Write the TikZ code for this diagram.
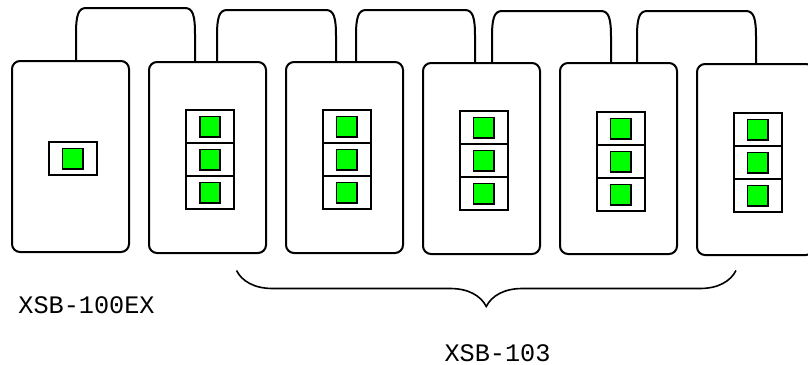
\documentclass[tikz,border=0pt]{standalone}
\usepackage{fontspec}
\setmonofont{Liberation Mono}
\usepackage{tikz}
\usetikzlibrary{calc,decorations.pathreplacing}
\definecolor{ledgreen}{RGB}{0,255,0}

\begin{document}
\begin{tikzpicture}[x=0.5pt,y=-0.5pt,
    unit/.style={draw=black,line width=1pt,rounded corners=4pt,minimum width=58.5pt,minimum height=95.5pt,inner sep=0pt},
    slot/.style={draw=black,line width=1pt,minimum width=24pt,minimum height=16.5pt,inner sep=0pt},
    led/.style={draw=black,line width=0.8pt,fill=ledgreen,minimum size=10.2pt,inner sep=0pt},
    cable/.style={line width=1pt},
    partno/.style={font=\ttfamily\fontsize{12.6}{14}\selectfont,inner sep=0pt}]
      \useasboundingbox (0,0) rectangle (808,364);

      \node[unit] (a) at (70.5,156.5){};
      \node[unit] (b) at (207.5,157.5){};
      \node[unit] (c) at (344.5,157.5){};
      \node[unit] (d) at (481.5,158.5){};
      \node[unit] (e) at (618.5,158.5){};
      \node[unit] (f) at (755.5,159.5){};

      \node[slot] (a1) at (72.5,158.5){};
      \node[led] (ga1) at (a1){};

      \node[slot] (b1) at (210,126.5){};
      \node[slot] (b2) at (210,159.5){};
      \node[slot] (b3) at (210,192.5){};
      \node[led] (gb1) at (b1){};
      \node[led] (gb2) at (b2){};
      \node[led] (gb3) at (b3){};

      \node[slot] (c1) at (346.5,126.5){};
      \node[slot] (c2) at (346.5,159.5){};
      \node[slot] (c3) at (346.5,192.5){};
      \node[led] (gc1) at (c1){};
      \node[led] (gc2) at (c2){};
      \node[led] (gc3) at (c3){};

      \node[slot] (d1) at (483.5,127.5){};
      \node[slot] (d2) at (483.5,160.5){};
      \node[slot] (d3) at (483.5,193.5){};
      \node[led] (gd1) at (d1){};
      \node[led] (gd2) at (d2){};
      \node[led] (gd3) at (d3){};

      \node[slot] (e1) at (620.8,128.5){};
      \node[slot] (e2) at (620.8,161.5){};
      \node[slot] (e3) at (620.8,194.5){};
      \node[led] (ge1) at (e1){};
      \node[led] (ge2) at (e2){};
      \node[led] (ge3) at (e3){};

      \node[slot] (f1) at (757.8,129.5){};
      \node[slot] (f2) at (757.8,162.5){};
      \node[slot] (f3) at (757.8,195.5){};
      \node[led] (gf1) at (f1){};
      \node[led] (gf2) at (f2){};
      \node[led] (gf3) at (f3){};

      \node[partno] (t1) at (86.5,305){XSB-100EX};
      \node[partno] (t2) at (497.5,353.5){XSB-103};

      \coordinate (l) at (236.5,270.5);
      \coordinate (r) at (736,270.5);

      \draw[cable] ($(a.north)+(5.5,0)$) -- ++(0,-26) .. controls +(0,-18) and +(-8,0) .. ++(10,-26) -- ++(99,0) .. controls +(8,0) and +(0,-18) .. ++(10,26) -- ($(b.north)+(-12.5,0)$);
      \draw[cable] ($(b.north)+(9.5,0)$) -- ++(0,-25) .. controls +(0,-18) and +(-8,0) .. ++(10,-26) -- ++(99,0) .. controls +(8,0) and +(0,-18) .. ++(10,26) -- ($(c.north)+(-8.5,0)$);
      \draw[cable] ($(c.north)+(11.5,0)$) -- ++(0,-25) .. controls +(0,-18) and +(-8,0) .. ++(10,-26) -- ++(99,0) .. controls +(8,0) and +(0,-18) .. ++(10,26) -- ($(d.north)+(-6.5,0)$);
      \draw[cable] ($(d.north)+(10.5,0)$) -- ++(0,-25) .. controls +(0,-18) and +(-8,0) .. ++(10,-26) -- ++(99,0) .. controls +(8,0) and +(0,-18) .. ++(10,26) -- ($(e.north)+(-7.5,0)$);
      \draw[cable] ($(e.north)+(18.5,0)$) -- ++(0,-25) .. controls +(0,-18) and +(-8,0) .. ++(10,-26) -- ++(99,0) .. controls +(8,0) and +(0,-18) .. ++(10,26) -- ($(f.north)+(0.5,0)$);

      \draw[decorate,decoration={brace,mirror,amplitude=18pt},line width=0.8pt] (l) -- (r);
    \end{tikzpicture}
\end{document}
